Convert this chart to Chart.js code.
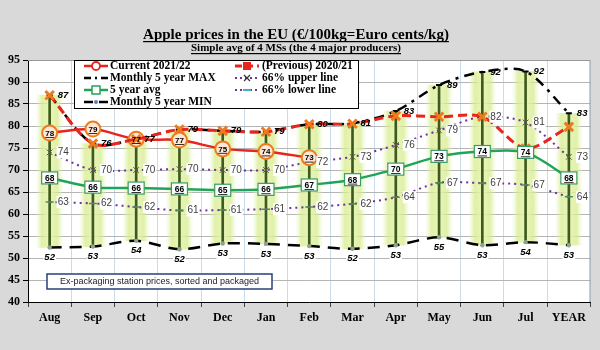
<!DOCTYPE html>
<html>
<head>
<meta charset="utf-8">
<script src="https://cdn.jsdelivr.net/npm/chart.js@4/dist/chart.umd.min.js"></script>
<style>
  html, body { margin: 0; padding: 0; background: #d9d9d9; }
  #wrap { width: 600px; height: 350px; }
</style>
</head>
<body>
<div id="wrap"><canvas id="chart" width="600" height="350"></canvas></div>
<script>
const months = ['Aug', 'Sep', 'Oct', 'Nov', 'Dec', 'Jan', 'Feb', 'Mar', 'Apr', 'May', 'Jun', 'Jul', 'YEAR'];
const current = [78.4, 79.3, 77.0, 76.8, 74.8, 74.2, 72.8, null, null, null, null, null, null];
const previous = [87.0, 76.0, 77.0, 79.2, 78.9, 78.7, 80.4, 80.5, 82.3, 82.1, 82.1, 74.9, 79.8];
const max5 = [87.0, 76.0, 77.0, 79.2, 78.9, 78.7, 80.4, 80.6, 83.4, 89.3, 92.3, 92.4, 82.9];
const min5 = [52.4, 52.6, 53.9, 52.0, 53.3, 53.2, 52.7, 52.1, 52.9, 54.7, 52.9, 53.6, 52.9];
const avg5 = [68.2, 66.1, 65.9, 65.7, 65.4, 65.6, 66.6, 67.8, 70.2, 73.1, 74.2, 74.0, 68.2];
const upper66 = [74.0, 70.0, 70.0, 70.2, 70.0, 70.0, 71.8, 73.0, 75.7, 79.0, 82.1, 80.8, 73.0];
const lower66 = [62.7, 62.4, 61.6, 60.8, 60.9, 61.1, 61.6, 62.3, 63.8, 67.1, 67.0, 66.6, 63.9];

const titleText = 'Apple prices in the EU (€/100kg=Euro cents/kg)';
const subtitleText = 'Simple avg of 4 MSs (the 4 major producers)';
const noteText = 'Ex-packaging station prices, sorted and packaged';

const SERIF = '"Liberation Serif", "Times New Roman", serif';
const SANS = '"Liberation Sans", Arial, sans-serif';

const RED = '#e8241c';
const ORANGE = '#ee7a1e';
const GREEN = '#22a457';
const PURPLE = '#7030a0';
const STEM = '#3e5a1c';

const ranges = months.map((m, i) => [min5[i], max5[i]]);

function glowFill(c) {
  const fallback = 'rgba(220,238,160,0.6)';
  if (c.dataIndex === undefined || !c.chart.scales.x) return fallback;
  const px = c.chart.scales.x.getPixelForValue(c.dataIndex);
  if (!Number.isFinite(px)) return fallback;
  const g = c.chart.ctx.createLinearGradient(px - 14, 0, px + 14, 0);
  g.addColorStop(0, 'rgba(230,244,180,0)');
  g.addColorStop(0.22, 'rgba(214,236,140,0.75)');
  g.addColorStop(0.5, 'rgba(232,245,185,0.95)');
  g.addColorStop(0.78, 'rgba(214,236,140,0.75)');
  g.addColorStop(1, 'rgba(230,244,180,0)');
  return g;
}

function labelBox(ctx, text, x, y, align) {
  const w = ctx.measureText(text).width;
  const left = align === 'left' ? x : x - w / 2;
  ctx.fillStyle = '#fff';
  ctx.fillRect(left - 1, y - 6, w + 2, 12);
}

const decor = {
  id: 'decor',
  beforeDraw(chart) {
    const { ctx, chartArea: a } = chart;
    ctx.save();
    ctx.fillStyle = '#d9d9d9';
    ctx.fillRect(0, 0, chart.width, chart.height);
    ctx.fillStyle = '#fff';
    ctx.fillRect(a.left, a.top, a.right - a.left, a.bottom - a.top);
    ctx.restore();
  },
  afterDatasetsDraw(chart) {
    const { ctx, chartArea: a } = chart;
    const meta = (i) => chart.getDatasetMeta(i).data;
    ctx.save();
    ctx.textBaseline = 'middle';

    // 66% lines
    ctx.font = '10px ' + SANS;
    [3, 4].forEach(di => {
      const vals = chart.data.datasets[di].data;
      meta(di).forEach((p, i) => {
        const t = String(Math.round(vals[i]));
        ctx.textAlign = 'left';
        labelBox(ctx, t, p.x + 8, p.y, 'left');
        ctx.fillStyle = '#404040';
        ctx.fillText(t, p.x + 8, p.y);
      });
    });

    // max labels
    ctx.font = 'italic bold 9.5px ' + SANS;
    meta(5).forEach((p, i) => {
      ctx.textAlign = 'left';
      ctx.fillStyle = '#000';
      ctx.fillText(String(Math.round(max5[i])), p.x + 8, p.y);
    });

    // min labels
    meta(6).forEach((p, i) => {
      const t = String(Math.round(min5[i]));
      ctx.textAlign = 'center';
      labelBox(ctx, t, p.x, p.y + 10, 'center');
      ctx.fillStyle = '#000';
      ctx.fillText(t, p.x, p.y + 10);
    });

    // 5 year avg boxes
    ctx.font = 'bold 8.5px ' + SANS;
    meta(2).forEach((p, i) => {
      const t = String(Math.round(avg5[i]));
      ctx.fillStyle = '#fff';
      ctx.fillRect(p.x - 8, p.y - 6, 16, 12);
      ctx.strokeStyle = '#3a9a6a';
      ctx.lineWidth = 1.2;
      ctx.strokeRect(p.x - 8, p.y - 6, 16, 12);
      ctx.fillStyle = '#000';
      ctx.textAlign = 'center';
      ctx.fillText(t, p.x, p.y + 0.5);
      const w = ctx.measureText(t).width;
      ctx.fillRect(p.x - w / 2, p.y + 4, w, 0.8);
    });

    // current labels inside circles
    ctx.font = 'bold 8px ' + SANS;
    meta(0).forEach((p, i) => {
      if (current[i] == null) return;
      const t = String(Math.round(current[i]));
      ctx.fillStyle = '#000';
      ctx.textAlign = 'center';
      ctx.fillText(t, p.x, p.y + 0.5);
      const w = ctx.measureText(t).width;
      ctx.fillRect(p.x - w / 2, p.y + 4, w, 0.8);
    });

    // frame
    ctx.strokeStyle = '#9a9a9a';
    ctx.lineWidth = 1;
    ctx.beginPath();
    ctx.moveTo(a.left, a.top + 0.5);
    ctx.lineTo(a.right - 0.5, a.top + 0.5);
    ctx.lineTo(a.right - 0.5, a.bottom);
    ctx.stroke();

    // note box
    ctx.fillStyle = '#fff';
    ctx.fillRect(47, 274, 225, 15);
    ctx.strokeStyle = '#24407a';
    ctx.lineWidth = 1.5;
    ctx.strokeRect(47, 274, 225, 15);
    ctx.font = '9px ' + SANS;
    ctx.fillStyle = '#222';
    ctx.textAlign = 'center';
    ctx.fillText(noteText, 159.5, 281.5);

    drawLegend(ctx);
    ctx.restore();
  },
  afterDraw(chart) {
    const ctx = chart.ctx;
    ctx.save();
    ctx.fillStyle = '#000';
    ctx.textAlign = 'center';
    ctx.textBaseline = 'alphabetic';
    [[titleText, 'bold 15px ' + SERIF, 39], [subtitleText, 'bold 11px ' + SERIF, 51]].forEach(([t, f, y]) => {
      ctx.font = f;
      ctx.fillText(t, 296, y);
      const w = ctx.measureText(t).width;
      ctx.fillRect(296 - w / 2, y + 2, w, 1.2);
    });
    ctx.restore();
  }
};

function drawLegend(ctx) {
  ctx.fillStyle = '#fff';
  ctx.fillRect(74, 60, 284, 48);
  ctx.strokeStyle = '#000';
  ctx.lineWidth = 1;
  ctx.strokeRect(74.5, 60.5, 284, 48);

  const seg = (x, y, color, width, dash) => {
    ctx.strokeStyle = color;
    ctx.lineWidth = width;
    ctx.setLineDash(dash);
    ctx.beginPath();
    ctx.moveTo(x, y);
    ctx.lineTo(x + 24, y);
    ctx.stroke();
    ctx.setLineDash([]);
  };
  const rows = [66, 78, 90, 102];
  const c1 = 84, c2 = 235;

  seg(c1, rows[0], RED, 2.5, []);
  ctx.fillStyle = '#fff'; ctx.strokeStyle = RED; ctx.lineWidth = 1.8;
  ctx.beginPath(); ctx.arc(c1 + 12, rows[0], 4, 0, Math.PI * 2); ctx.fill(); ctx.stroke();

  seg(c1, rows[1], '#000', 2.5, [7, 4, 2, 4]);

  seg(c1, rows[2], GREEN, 2.5, []);
  ctx.fillStyle = '#fff'; ctx.strokeStyle = GREEN; ctx.lineWidth = 1.5;
  ctx.fillRect(c1 + 8, rows[2] - 4, 8, 8); ctx.strokeRect(c1 + 8, rows[2] - 4, 8, 8);

  seg(c1, rows[3], '#000', 2.5, [9, 6]);
  ctx.fillStyle = '#5b7fbf';
  ctx.beginPath(); ctx.arc(c1 + 12, rows[3], 2, 0, Math.PI * 2); ctx.fill();

  seg(c2, rows[0], RED, 3, [7, 4]);
  ctx.fillStyle = RED;
  ctx.fillRect(c2 + 8, rows[0] - 4, 8, 8);

  seg(c2, rows[1], PURPLE, 2, [2, 3]);
  ctx.strokeStyle = '#333'; ctx.lineWidth = 1.2;
  ctx.beginPath();
  ctx.moveTo(c2 + 9, rows[1] - 3); ctx.lineTo(c2 + 15, rows[1] + 3);
  ctx.moveTo(c2 + 15, rows[1] - 3); ctx.lineTo(c2 + 9, rows[1] + 3);
  ctx.stroke();

  seg(c2, rows[2], PURPLE, 2, [2, 3]);
  ctx.fillStyle = '#4bacc6';
  ctx.fillRect(c2 + 8, rows[2] - 1, 8, 2);

  ctx.fillStyle = '#000';
  ctx.font = 'bold 11.5px ' + SERIF;
  ctx.textAlign = 'left';
  ctx.textBaseline = 'middle';
  ctx.fillText('Current 2021/22', c1 + 26, rows[0]);
  ctx.fillText('Monthly 5 year MAX', c1 + 26, rows[1]);
  ctx.fillText('5 year avg', c1 + 26, rows[2]);
  ctx.fillText('Monthly 5 year MIN', c1 + 26, rows[3]);
  ctx.fillText('(Previous) 2020/21', c2 + 27, rows[0]);
  ctx.fillText('66% upper line', c2 + 27, rows[1]);
  ctx.fillText('66% lower line', c2 + 27, rows[2]);
}

new Chart(document.getElementById('chart'), {
  type: 'line',
  data: {
    labels: months,
    datasets: [
      {
        label: 'Current 2021/22', data: current, order: 2,
        borderColor: RED, borderWidth: 2.5, tension: 0.3,
        pointRadius: 7.5, pointBackgroundColor: '#fde8d8',
        pointBorderColor: ORANGE, pointBorderWidth: 2
      },
      {
        label: '(Previous) 2020/21', data: previous, order: 1,
        borderColor: RED, borderWidth: 3, borderDash: [9, 5], tension: 0.3,
        pointStyle: 'crossRot', pointRadius: 6,
        pointBorderColor: ORANGE, pointBorderWidth: 3
      },
      {
        label: '5 year avg', data: avg5, order: 3,
        borderColor: GREEN, borderWidth: 2.5, tension: 0.3, pointRadius: 0
      },
      {
        label: '66% upper line', data: upper66, order: 4,
        borderColor: PURPLE, borderWidth: 2, borderDash: [2, 4], tension: 0.3,
        pointStyle: 'crossRot', pointRadius: 4, pointBorderColor: '#4f6228', pointBorderWidth: 1
      },
      {
        label: '66% lower line', data: lower66, order: 5,
        borderColor: PURPLE, borderWidth: 2, borderDash: [2, 4], tension: 0.3,
        pointStyle: 'line', pointRadius: 4, pointBorderColor: '#4f8a5a', pointBorderWidth: 1.5
      },
      {
        label: 'Monthly 5 year MAX', data: max5, order: 6,
        borderColor: '#000', borderWidth: 2.5, borderDash: [10, 6, 3, 6], tension: 0.3,
        pointStyle: 'line', pointRadius: 3, pointBorderColor: '#000', pointBorderWidth: 2
      },
      {
        label: 'Monthly 5 year MIN', data: min5, order: 7,
        borderColor: '#000', borderWidth: 2.5, borderDash: [12, 8], tension: 0.3,
        pointRadius: 2.2, pointBackgroundColor: '#8ea38e', pointBorderWidth: 0
      },
      {
        type: 'bar', label: 'range', data: ranges, order: 8, grouped: false,
        backgroundColor: STEM, barThickness: 2
      },
      {
        type: 'bar', label: 'glow', data: ranges, order: 9, grouped: false,
        backgroundColor: glowFill, barThickness: 28
      }
    ]
  },
  options: {
    responsive: false,
    animation: false,
    layout: { padding: { top: 60, right: 5, left: 0, bottom: 0 } },
    plugins: { legend: { display: false }, tooltip: { enabled: false } },
    scales: {
      x: {
        offset: true,
        grid: { offset: true, color: '#c8dcec', tickColor: '#444', tickLength: 5 },
        border: { color: '#000' },
        ticks: { color: '#000', font: { family: SERIF, size: 12, weight: 'bold' }, padding: 4 },
        afterFit(s) { s.height = 48; }
      },
      y: {
        min: 40, max: 95,
        grid: { color: '#b4b4b4', tickColor: '#000', tickLength: 5 },
        border: { color: '#000' },
        ticks: { stepSize: 5, color: '#000', font: { family: SERIF, size: 12, weight: 'bold' }, padding: 3 },
        afterFit(s) { s.width = 28; }
      }
    }
  },
  plugins: [decor]
});
</script>
</body>
</html>
